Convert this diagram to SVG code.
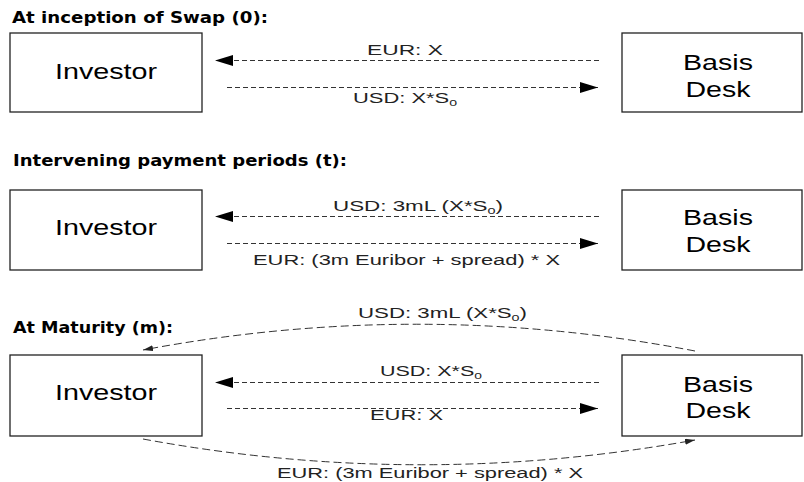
<svg xmlns="http://www.w3.org/2000/svg" width="804" height="482" viewBox="0 0 804 482">
<style>
.title{font-family:"DejaVu Sans",Verdana,sans-serif;font-weight:bold;font-size:15px;fill:#000}
.node rect{fill:#fff;stroke:#222;stroke-width:1.3}
.node text{font-family:"Liberation Sans",Arial,sans-serif;font-size:22px;fill:#000;text-anchor:middle}
.lbl{font-family:"Liberation Sans",Arial,sans-serif;font-size:14px;fill:#222}
.sub{font-size:9px}
.str{fill:none;stroke:#333;stroke-width:1;stroke-dasharray:5,3}
.crv{fill:none;stroke:#333;stroke-width:1;stroke-dasharray:8,4}
</style>
<defs>
<marker id="ah" markerUnits="userSpaceOnUse" markerWidth="18" markerHeight="12" refX="18" refY="6" orient="auto"><path d="M0,0.5 L18,6 L0,11.5 Z" fill="#000"/></marker>
<marker id="sm" markerUnits="userSpaceOnUse" markerWidth="10" markerHeight="6" refX="10" refY="3" orient="auto"><path d="M0,0 L10,3 L0,6 Z" fill="#222"/></marker>
</defs>
<rect width="804" height="482" fill="#fff"/>

<text class="title" x="12" y="23" textLength="256" lengthAdjust="spacingAndGlyphs">At inception of Swap (0):</text>
<text class="title" x="13" y="166" textLength="334" lengthAdjust="spacingAndGlyphs">Intervening payment periods (t):</text>
<text class="title" x="13" y="333" textLength="160" lengthAdjust="spacingAndGlyphs">At Maturity (m):</text>

<g id="investor-0" class="node"><rect x="10" y="33" width="192" height="79"/><text x="106" y="79" textLength="102" lengthAdjust="spacingAndGlyphs">Investor</text></g>
<g id="desk-0" class="node"><rect x="622" y="33" width="180" height="79"/><text x="718" y="70" textLength="70" lengthAdjust="spacingAndGlyphs">Basis</text><text x="718" y="97" textLength="65" lengthAdjust="spacingAndGlyphs">Desk</text></g>
<g id="investor-t" class="node"><rect x="10" y="190" width="192" height="80"/><text x="106" y="235" textLength="102" lengthAdjust="spacingAndGlyphs">Investor</text></g>
<g id="desk-t" class="node"><rect x="622" y="190" width="180" height="80"/><text x="718" y="225" textLength="70" lengthAdjust="spacingAndGlyphs">Basis</text><text x="718" y="252" textLength="65" lengthAdjust="spacingAndGlyphs">Desk</text></g>
<g id="investor-m" class="node"><rect x="10" y="355" width="192" height="81"/><text x="106" y="400" textLength="102" lengthAdjust="spacingAndGlyphs">Investor</text></g>
<g id="desk-m" class="node"><rect x="622" y="355" width="180" height="81"/><text x="718" y="392" textLength="70" lengthAdjust="spacingAndGlyphs">Basis</text><text x="718" y="418" textLength="65" lengthAdjust="spacingAndGlyphs">Desk</text></g>

<g id="connectors">
<line class="str" x1="599" y1="60.5" x2="215" y2="60.5" marker-end="url(#ah)"/>
<line class="str" x1="227" y1="87.5" x2="598" y2="87.5" marker-end="url(#ah)"/>
<line class="str" x1="599" y1="216.5" x2="215" y2="216.5" marker-end="url(#ah)"/>
<line class="str" x1="227" y1="243.5" x2="598" y2="243.5" marker-end="url(#ah)"/>
<line class="str" x1="599" y1="382.5" x2="215" y2="382.5" marker-end="url(#ah)"/>
<line class="str" x1="227" y1="408.5" x2="598" y2="408.5" marker-end="url(#ah)"/>
<path class="crv" d="M695,351 Q419,298 143,350" marker-end="url(#sm)"/>
<path class="crv" d="M143,439 Q419,490 695,440" marker-end="url(#sm)"/>

<text class="lbl" x="367" y="55" textLength="76" lengthAdjust="spacingAndGlyphs">EUR: X</text>
<text class="lbl" x="353" y="103" textLength="104" lengthAdjust="spacingAndGlyphs">USD: X*S<tspan class="sub" dy="3">0</tspan></text>
<text class="lbl" x="333" y="211" textLength="170" lengthAdjust="spacingAndGlyphs">USD: 3mL (X*S<tspan class="sub" dy="3">0</tspan><tspan dy="-3">)</tspan></text>
<text class="lbl" x="253" y="265" textLength="307" lengthAdjust="spacingAndGlyphs">EUR: (3m Euribor + spread) * X</text>
<text class="lbl" x="358" y="318" textLength="169" lengthAdjust="spacingAndGlyphs">USD: 3mL (X*S<tspan class="sub" dy="3">0</tspan><tspan dy="-3">)</tspan></text>
<text class="lbl" x="380" y="376" textLength="102" lengthAdjust="spacingAndGlyphs">USD: X*S<tspan class="sub" dy="3">0</tspan></text>
<text class="lbl" x="370" y="420" textLength="73" lengthAdjust="spacingAndGlyphs">EUR: X</text>
<text class="lbl" x="277" y="478" textLength="306" lengthAdjust="spacingAndGlyphs">EUR: (3m Euribor + spread) * X</text>
</g>
</svg>
